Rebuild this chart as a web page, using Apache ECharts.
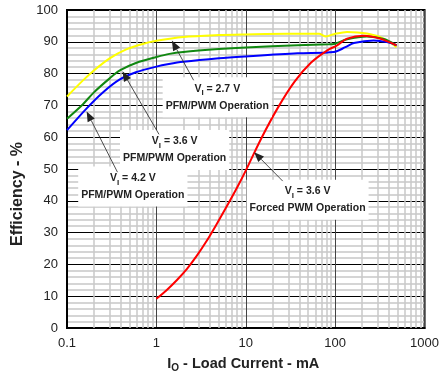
<!DOCTYPE html>
<html>
<head>
<meta charset="utf-8">
<script src="https://cdn.jsdelivr.net/npm/echarts@6/dist/echarts.min.js"></script>
<style>
html,body{margin:0;padding:0;background:#fff;}
#c{width:442px;height:386px;}
</style>
</head>
<body>
<div id="c"></div>
<script>
// Data (load current in mA, efficiency in %)
const x27 = [0.1, 0.15, 0.2, 0.3, 0.46, 0.7, 1, 2, 5, 10, 30, 66, 78, 97, 136, 227, 350, 486];
const y27 = [72.8, 77.8, 81.0, 84.8, 87.6, 89.3, 90.3, 91.5, 92.1, 92.3, 92.5, 92.5, 91.7, 92.4, 93.1, 92.6, 91.0, 88.3];

const x36 = [0.1, 0.15, 0.2, 0.3, 0.39, 0.6, 1, 1.4, 2, 5, 10, 38, 85, 97, 136, 227, 350, 486];
const y36 = [65.8, 70.3, 74.1, 78.5, 81.0, 83.4, 85.2, 86.2, 86.8, 87.7, 88.2, 88.9, 89.2, 89.3, 90.8, 91.7, 90.9, 88.9];

const x42 = [0.1, 0.165, 0.25, 0.386, 0.6, 1, 1.38, 2, 5, 10, 38, 97, 130, 162, 270, 378, 486];
const y42 = [62.2, 69.0, 74.0, 78.1, 80.5, 82.2, 83.0, 83.7, 84.8, 85.4, 86.4, 86.8, 88.3, 89.6, 90.4, 89.9, 88.9];

const xFpwm = [1, 1.3, 1.7, 2.2, 2.8, 3.6, 4.6, 6, 8, 10, 14.9, 22.9, 35, 53.5, 81.7, 105, 136, 208, 318, 486];
const yFpwm = [9.2, 11.9, 15.1, 18.6, 22.5, 27.1, 32.1, 37.8, 44.2, 49.5, 59.6, 69.3, 77.4, 83.4, 87.3, 88.9, 91.0, 91.9, 91.0, 88.9];

const xTickLabels = ['0.1', '1', '10', '100', '1000'];
const minorXGrid = [0.2,0.3,0.4,0.5,0.6,0.7,0.8,0.9,2,3,4,5,6,7,8,9,20,30,40,50,60,70,80,90,200,300,400,500,600,700,800,900];

// Annotations: label lines, label center (data), arrow tail (data), arrow head (data)
const annVolt = ['2.7 V', '3.6 V', '4.2 V', '3.6 V'];
const annMode = ['PFM/PWM Operation', 'PFM/PWM Operation', 'PFM/PWM Operation', 'Forced PWM Operation'];
const annCenter = [[4.8, 72.6], [1.6, 56.0], [0.545, 44.5], [49.1, 40.3]];
const annTail = [[2.61, 77.9], [1.07, 60.9], [0.367, 49.0], [25.9, 46.2]];
const annHead = [[1.49, 90.4], [0.417, 80.7], [0.166, 68.1], [12.4, 55.3]];

const zip = (xs, ys) => xs.map((v, i) => [v, ys[i]]);
const FONT = 'Liberation Sans, Arial, sans-serif';

const chart = echarts.init(document.getElementById('c'), null, {renderer: 'canvas'});

function curve(data, color) {
  return {
    type: 'line', data: data, smooth: 0.3, showSymbol: false, symbol: 'none',
    lineStyle: {color: color, width: 2}, z: 5, silent: true, animation: false
  };
}

chart.setOption({
  animation: false,
  grid: {left: 67, right: 14, top: 10, bottom: 58, show: true, borderColor: '#000', borderWidth: 2, backgroundColor: '#fff'},
  xAxis: {
    type: 'log', logBase: 10, min: 0.1, max: 1000,
    name: '{b|I}{s|O}{b| - Load Current - mA}',
    nameLocation: 'middle', nameGap: 27,
    nameTextStyle: {
      padding: [0, 5, 0, 0],
      rich: {
        b: {fontFamily: FONT, fontSize: 14.5, fontWeight: 'bold', color: '#222', lineHeight: 18},
        s: {fontFamily: FONT, fontSize: 10, fontWeight: 'bold', color: '#222', lineHeight: 10, verticalAlign: 'bottom'}
      }
    },
    axisLine: {show: true, lineStyle: {color: '#000', width: 2}},
    axisTick: {show: false},
    axisLabel: {
      fontFamily: FONT, fontSize: 13, color: '#222', margin: 9,
      formatter: v => {
        const i = Math.round(Math.log10(v)) + 1;
        return xTickLabels[i] !== undefined ? xTickLabels[i] : '';
      }
    },
    splitLine: {show: true, lineStyle: {color: '#444', width: 1}}
  },
  yAxis: {
    type: 'value', min: 0, max: 100, interval: 10,
    name: 'Efficiency - %', nameLocation: 'middle', nameGap: 31,
    nameTextStyle: {fontFamily: FONT, fontSize: 16, fontWeight: 'bold', color: '#222', padding: [0, 50, 0, 0]},
    axisLine: {show: true, lineStyle: {color: '#000', width: 2}},
    axisTick: {show: false},
    axisLabel: {fontFamily: FONT, fontSize: 13, color: '#222', margin: 9},
    splitLine: {show: true, lineStyle: {color: '#000', width: 1.2}},
    minorTick: {show: false, splitNumber: 5},
    minorSplitLine: {show: true, lineStyle: {color: '#c8c8c8', width: 1.5}}
  },
  series: [
    {
      type: 'line', data: [], silent: true, z: 1,
      markLine: {
        silent: true, symbol: ['none', 'none'], animation: false,
        label: {show: false},
        lineStyle: {color: '#c8c8c8', width: 1.5, type: 'solid'},
        data: minorXGrid.map(v => ({xAxis: v}))
      }
    },
    curve(zip(x27, y27), '#ffff00'),
    curve(zip(x36, y36), '#118811'),
    curve(zip(x42, y42), '#0000ff'),
    curve(zip(xFpwm, yFpwm), '#ff0000')
  ]
});

function buildGraphics() {
  const g = [];
  const px = p => chart.convertToPixel({gridIndex: 0}, p);
  for (let i = 0; i < annCenter.length; i++) {
    const c = px(annCenter[i]);
    const t = px(annTail[i]);
    const h = px(annHead[i]);
    const ang = Math.atan2(h[1] - t[1], h[0] - t[0]);
    const L = 10, W = 4;
    const bx = h[0] - L * Math.cos(ang), by = h[1] - L * Math.sin(ang);
    const nx = -Math.sin(ang), ny = Math.cos(ang);
    g.push({
      type: 'line', z: 20, silent: true,
      shape: {x1: t[0], y1: t[1], x2: bx, y2: by},
      style: {stroke: '#222', lineWidth: 0.8}
    });
    g.push({
      type: 'polygon', z: 20, silent: true,
      shape: {points: [[h[0], h[1]], [bx + nx * W, by + ny * W], [bx - nx * W, by - ny * W]]},
      style: {fill: '#222'}
    });
    g.push({
      type: 'text', z: 19, silent: true,
      x: c[0], y: c[1],
      style: {
        text: '{b|V}{s|I}{b| = ' + annVolt[i] + '}\n{b|' + annMode[i] + '}',
        align: 'center', verticalAlign: 'middle',
        backgroundColor: '#fff', padding: [3, 3, 3, 3],
        rich: {
          b: {fontFamily: FONT, fontSize: 10.5, fontWeight: 'bold', fill: '#222', lineHeight: 17},
          s: {fontFamily: FONT, fontSize: 8, fontWeight: 'bold', fill: '#222', lineHeight: 8, verticalAlign: 'bottom'}
        }
      }
    });
  }
  chart.setOption({graphic: g});
}
buildGraphics();
</script>
</body>
</html>
